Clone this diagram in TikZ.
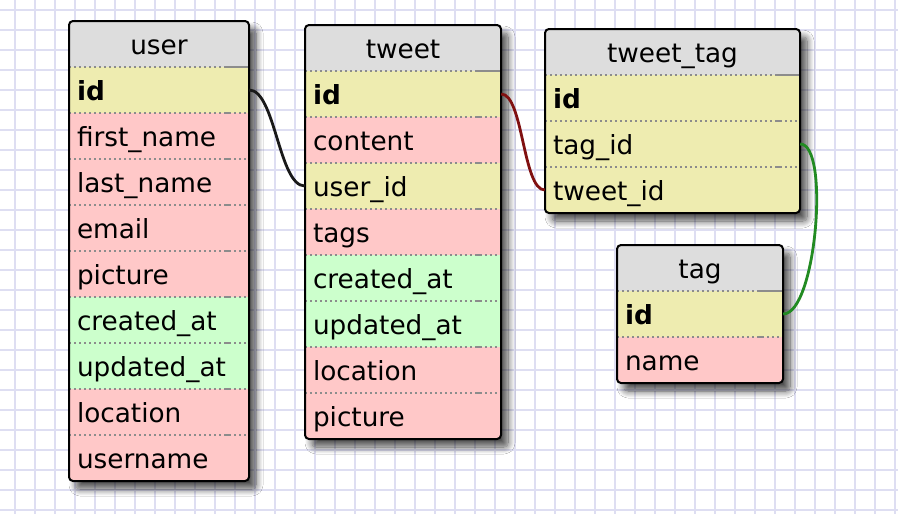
\documentclass[tikz,border=0pt]{standalone}
\usepackage{fontspec}
\setmainfont{DejaVu Sans}
\usetikzlibrary{shadows.blur}
\definecolor{hdr}{RGB}{221,221,221}
\definecolor{ky}{RGB}{238,236,176}
\definecolor{pk}{RGB}{255,200,200}
\definecolor{gn}{RGB}{204,255,204}
\definecolor{gridc}{RGB}{222,222,242}
\definecolor{sepc}{RGB}{140,140,140}
\definecolor{fkred}{RGB}{128,16,16}
\definecolor{fkgreen}{RGB}{34,139,34}
\definecolor{fkblack}{RGB}{25,25,25}
\tikzset{
  gridline/.style={draw=gridc, line width=1.6pt},
  cell/.style={rectangle, inner sep=0pt, minimum height=46pt, text height=22pt, text depth=2pt,
    font=\fontsize{26.3}{30}\selectfont},
  sepdots/.style={draw=sepc, line width=1.5pt, dash pattern=on 1.5pt off 3.5pt},
  sepsolid/.style={draw=sepc, line width=1.5pt},
  tblborder/.style={draw=black, line width=2pt, rounded corners=4pt},
  tblshadow/.style={fill=hdr, rounded corners=4pt,
    blur shadow={shadow xshift=7pt, shadow yshift=-8pt, shadow blur radius=7pt, shadow blur steps=12, shadow opacity=70}},
  conn/.style={line width=2.8pt},
}
\newcommand\dbtable[7]{%
  \pgfmathsetmacro\tblw{#4-16}%
  \fill[tblshadow] (#2,#3) rectangle ({#2+#4},{#3+46*(#5+1)});
  \begin{scope}
    \clip[rounded corners=4pt] (#2,#3) rectangle ({#2+#4},{#3+46*(#5+1)});
    \node[cell, fill=hdr, minimum width=#4pt, text width=\tblw pt, align=center] (#1-title) at ({#2+#4/2},{#3+23}) {#6};
    \foreach \c/\k/\t [count=\i] in {#7} {
      \node[cell, fill=\c, minimum width=#4pt, text width=\tblw pt, align=left] (#1-\k) at ({#2+#4/2},{#3+46*\i+23}) {\t};
    }
  \end{scope}
  \foreach \i in {1,...,#5} {
    \draw[sepdots] (#2,{#3+46*\i}) -- ({#2+#4},{#3+46*\i});
    \ifnum\i=1
      \draw[sepsolid] ({#2+#4-24},{#3+46*\i}) -- ({#2+#4},{#3+46*\i});
    \else
      \draw[sepsolid] ({#2+#4-24},{#3+46*\i}) -- ({#2+#4-19},{#3+46*\i});
    \fi
  }
  \draw[tblborder] (#2,#3) rectangle ({#2+#4},{#3+46*(#5+1)});
}
\begin{document}
\begin{tikzpicture}[x=1pt, y=-1pt]
  \useasboundingbox (0,0) rectangle (898,514);
  \fill[white] (0,0) rectangle (898,514);
  \foreach \x in {15,35,...,895} \draw[gridline] (\x,0) -- (\x,514);
  \foreach \y in {10,30,...,510} \draw[gridline] (0,\y) -- (898,\y);

  \dbtable{user}{69}{21}{180}{9}{user}{ky/id/{\bfseries id}, pk/firstname/first\_name, pk/lastname/last\_name, pk/email/email, pk/picture/picture, gn/createdat/created\_at, gn/updatedat/updated\_at, pk/location/location, pk/username/username}
  \dbtable{tweet}{305}{25}{196}{8}{tweet}{ky/id/{\bfseries id}, pk/content/content, ky/userid/user\_id, pk/tags/tags, gn/createdat/created\_at, gn/updatedat/updated\_at, pk/location/location, pk/picture/picture}
  \dbtable{tweettag}{545}{29}{255}{3}{tweet\_tag}{ky/id/{\bfseries id}, ky/tagid/tag\_id, ky/tweetid/tweet\_id}
  \dbtable{tag}{617}{245}{166}{2}{tag}{ky/id/{\bfseries id}, pk/name/name}

  \draw[conn, fkblack] (user-id.east) .. controls +(26,0) and +(-26,0) .. (tweet-userid.west);
  \draw[conn, fkred] (tweet-id.east) .. controls +(22,0) and +(-22,0) .. (tweettag-tweetid.west);
  \draw[conn, fkgreen] (tweettag-tagid.east) .. controls +(30,0) and +(33,0) .. (tag-id.east);
\end{tikzpicture}
\end{document}
